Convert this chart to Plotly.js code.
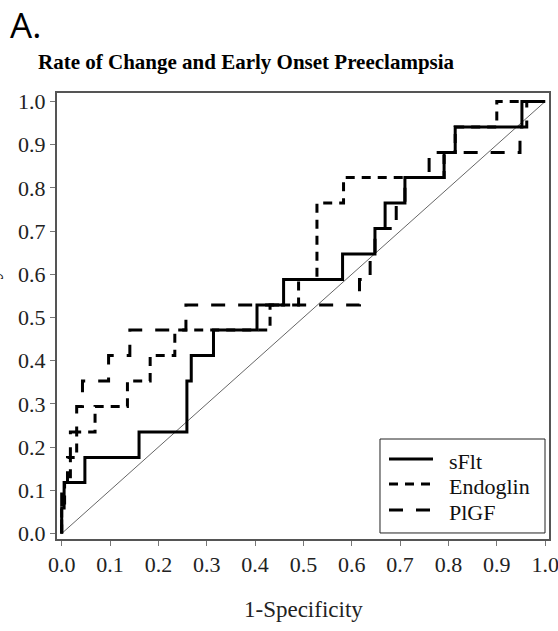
<!DOCTYPE html>
<html>
<head>
<meta charset="utf-8">
<script src="https://cdn.plot.ly/plotly-3.0.1.min.js"></script>
<style>html,body{margin:0;padding:0;background:#fff;}#chart{width:558px;height:631px;}</style>
</head>
<body>
<div id="chart"></div>
<script>
// ROC step corner points: x = 1-specificity where sensitivity rises, y = sensitivity after the rise
var sFltX = [0, 0, 0.005, 0.048, 0.160, 0.259, 0.268, 0.314, 0.404, 0.459, 0.581, 0.648, 0.669, 0.710, 0.791, 0.814, 0.952, 1.0];
var sFltY = [0, 0.059, 0.118, 0.176, 0.235, 0.353, 0.412, 0.471, 0.529, 0.588, 0.647, 0.706, 0.765, 0.824, 0.882, 0.941, 1.0, 1.0];

var endoglinX = [0, 0, 0.006, 0.018, 0.031, 0.069, 0.136, 0.183, 0.234, 0.431, 0.490, 0.528, 0.583, 0.791, 0.814, 0.900, 1.0];
var endoglinY = [0, 0.059, 0.118, 0.176, 0.235, 0.294, 0.353, 0.412, 0.471, 0.529, 0.588, 0.765, 0.824, 0.882, 0.941, 1.0, 1.0];

var plgfX = [0, 0, 0.012, 0.018, 0.031, 0.043, 0.097, 0.141, 0.257, 0.616, 0.638, 0.648, 0.692, 0.710, 0.760, 0.948, 0.962, 1.0];
var plgfY = [0, 0.118, 0.176, 0.235, 0.294, 0.353, 0.412, 0.471, 0.529, 0.588, 0.647, 0.706, 0.765, 0.824, 0.882, 0.941, 1.0, 1.0];

var diagX = [0, 1];
var diagY = [0, 1];

var tickVals = [0, 0.1, 0.2, 0.3, 0.4, 0.5, 0.6, 0.7, 0.8, 0.9, 1.0];
var tickText = ['0.0', '0.1', '0.2', '0.3', '0.4', '0.5', '0.6', '0.7', '0.8', '0.9', '1.0'];

var seriesNames = ['sFlt', 'Endoglin', 'PlGF'];
var seriesDash = ['solid', '9px,7px', '14px,13px'];

var serif = '"Liberation Serif", "Times New Roman", Times, serif';

var traces = [
  {x: diagX, y: diagY, mode: 'lines', line: {color: '#666', width: 1}, showlegend: false, hoverinfo: 'skip'},
  {x: sFltX, y: sFltY, name: seriesNames[0], mode: 'lines', showlegend: false, line: {color: '#000', width: 3, shape: 'hv', dash: seriesDash[0]}},
  {x: endoglinX, y: endoglinY, name: seriesNames[1], mode: 'lines', showlegend: false, line: {color: '#000', width: 3, shape: 'hv', dash: seriesDash[1]}},
  {x: plgfX, y: plgfY, name: seriesNames[2], mode: 'lines', showlegend: false, line: {color: '#000', width: 3, shape: 'hv', dash: seriesDash[2]}}
];

var axisCommon = {
  showgrid: false, zeroline: false,
  showline: true, mirror: true, linecolor: '#555', linewidth: 2,
  ticks: 'outside', ticklen: 5, tickwidth: 1, tickcolor: '#777',
  tickvals: tickVals, ticktext: tickText,
  ticklabeloverflow: 'allow',
  tickfont: {family: serif, size: 22, color: '#222'}
};

// Hand-drawn legend box (paper coordinates)
var legBox = {x0: 0.6565, x1: 0.9919, y0: 0.0135, y1: 0.2242};
var legSampleX = [0.6748, 0.7642];
var legRowY = [0.1794, 0.1233, 0.0650];
var legTextX = 0.7927;

var shapes = [
  {type: 'rect', xref: 'paper', yref: 'paper', x0: legBox.x0, x1: legBox.x1, y0: legBox.y0, y1: legBox.y1,
   line: {color: '#222', width: 1}, fillcolor: '#fff', layer: 'above'}
];
var annotations = [
  {xref: 'paper', yref: 'paper', x: -0.0996, y: 1.1547, xanchor: 'left', yanchor: 'middle',
   text: 'A.', showarrow: false, font: {family: '"Open Sans", sans-serif', size: 35, color: '#000'}},
  {xref: 'paper', yref: 'paper', x: 0.386, y: 1.0695, xanchor: 'center', yanchor: 'middle',
   text: '<b>Rate of Change and Early Onset Preeclampsia</b>', showarrow: false,
   font: {family: serif, size: 21, color: '#000'}},
  {xref: 'paper', yref: 'paper', x: 0.5, y: -0.157, xanchor: 'center', yanchor: 'middle',
   text: '1-Specificity', showarrow: false, font: {family: serif, size: 23, color: '#222'}},
  {xref: 'paper', yref: 'paper', x: -0.1077, y: 0.5, xanchor: 'right', yanchor: 'middle', textangle: -90,
   text: 'Sensitivity', showarrow: false, font: {family: serif, size: 22, color: '#222'}}
];
for (var i = 0; i < seriesNames.length; i++) {
  shapes.push({type: 'line', xref: 'paper', yref: 'paper', x0: legSampleX[0], x1: legSampleX[1],
    y0: legRowY[i], y1: legRowY[i], line: {color: '#000', width: 3, dash: seriesDash[i]}, layer: 'above'});
  annotations.push({xref: 'paper', yref: 'paper', x: legTextX, y: legRowY[i] - 0.006, xanchor: 'left', yanchor: 'middle',
    text: seriesNames[i], showarrow: false, font: {family: serif, size: 22, color: '#111'}});
}

var layout = {
  width: 558, height: 631,
  margin: {l: 57, r: 9, t: 93, b: 92},
  paper_bgcolor: '#fff', plot_bgcolor: '#fff',
  xaxis: Object.assign({}, axisCommon, {range: [-0.0097, 1.008]}),
  yaxis: Object.assign({}, axisCommon, {range: [-0.0127, 1.0197]}),
  showlegend: false,
  shapes: shapes,
  annotations: annotations
};

Plotly.newPlot('chart', traces, layout, {displayModeBar: false, staticPlot: true});
</script>
</body>
</html>
